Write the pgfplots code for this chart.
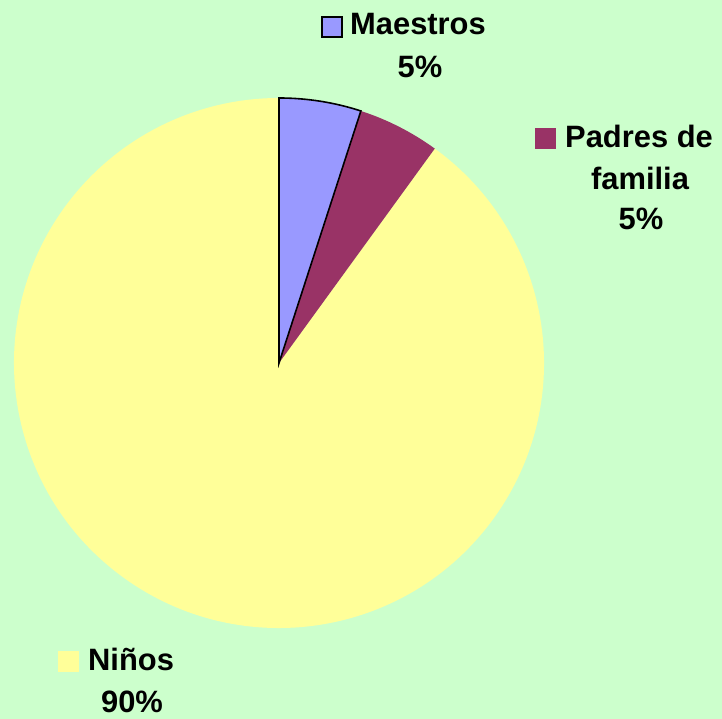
\documentclass[border=0pt]{standalone}
\usepackage{pgfplots}
\pgfplotsset{compat=1.18}
\usepackage{fontspec}
\setmainfont{Liberation Sans}
\definecolor{bg}{HTML}{CCFFCC}
\definecolor{maestros}{HTML}{9999FF}
\definecolor{padres}{HTML}{993366}
\definecolor{ninos}{HTML}{FFFF99}

% slice shares (percent), clockwise from 12 o'clock
\def\vMaestros{5}
\def\vPadres{5}
\def\vNinos{90}

\begin{document}
\begin{tikzpicture}[lbl/.style={font=\bfseries\fontsize{31}{31}\selectfont, inner sep=0pt}]
\pgfmathsetmacro\aA{90}
\pgfmathsetmacro\aB{90-3.6*\vMaestros}
\pgfmathsetmacro\aC{\aB-3.6*\vPadres}
\pgfmathsetmacro\aD{\aC-3.6*\vNinos}
\begin{axis}[
    width=722bp, height=719bp, scale only axis,
    xmin=0, xmax=722, ymin=0, ymax=719,
    hide axis, clip=false,
]
\coordinate (BL) at (axis cs:0,0);
\coordinate (TR) at (axis cs:722,719);
\fill[bg] (axis cs:0,0) rectangle (axis cs:722,719);

\fill[ninos] (axis cs:279,356) -- ++(\aC:265bp) arc[start angle=\aC, end angle=\aD, radius=265bp] -- cycle;
\fill[padres] (axis cs:279,356) -- ++(\aB:265bp) arc[start angle=\aB, end angle=\aC, radius=265bp] -- cycle;
\filldraw[fill=maestros, draw=black, line width=1.6bp] (axis cs:279,356) -- ++(\aA:265bp) arc[start angle=\aA, end angle=\aB, radius=265bp] -- cycle;

% labels
\filldraw[fill=maestros, draw=black, line width=1.2bp] (axis cs:322,682) rectangle (axis cs:342,702);
\node[lbl, anchor=base west] at (axis cs:350,684) {Maestros};
\node[lbl, anchor=base] at (axis cs:420,641) {5\%};

\fill[padres] (axis cs:535,570) rectangle (axis cs:556,591);
\node[lbl, anchor=base west] at (axis cs:565,571) {Padres de};
\node[lbl, anchor=base] at (axis cs:640,529) {familia};
\node[lbl, anchor=base] at (axis cs:641,489) {5\%};

\fill[ninos] (axis cs:58,47) rectangle (axis cs:79,68);
\node[lbl, anchor=base west] at (axis cs:88,48) {Niños};
\node[lbl, anchor=base] at (axis cs:132,7) {90\%};
\end{axis}
\pgfresetboundingbox
\useasboundingbox (BL) rectangle (TR);
\end{tikzpicture}
\end{document}
